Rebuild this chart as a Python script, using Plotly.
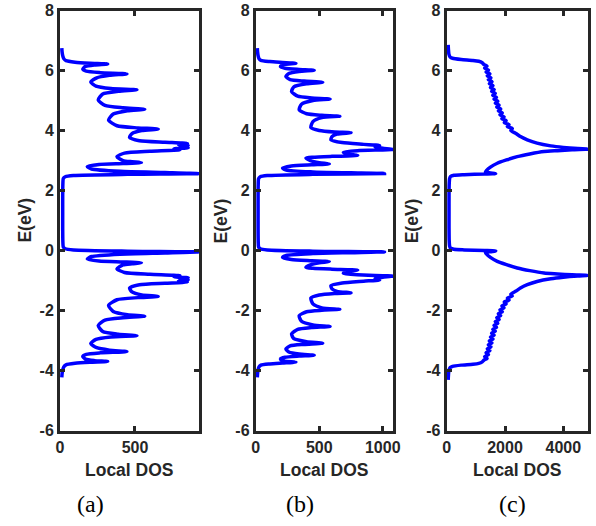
import plotly.graph_objects as go

# ---------------- data ----------------
E_a_top = [6.75, 6.62, 6.50, 6.40, 6.33, 6.28, 6.245, 6.22, 6.19, 6.14, 6.05, 5.98, 5.93, 5.89, 5.84, 5.76,
           5.62, 5.48, 5.40, 5.36, 5.31, 5.22, 5.02, 4.84, 4.76, 4.71, 4.66, 4.55, 4.35, 4.16, 4.09, 4.05,
           4.00, 3.90, 3.77, 3.66, 3.61, 3.57, 3.53, 3.50, 3.46, 3.43, 3.39, 3.36, 3.31, 3.25, 3.13, 3.00,
           2.96, 2.93, 2.90, 2.87, 2.80, 2.72, 2.64, 2.60, 2.565, 2.54, 2.50, 2.46, 2.40, 2.20, 1.80, 1.26]
D_a_top = [12, 14, 18, 25, 40, 100, 200, 318, 230, 170, 152, 175, 270, 446, 330, 245,
           205, 240, 340, 513, 390, 285, 255, 300, 420, 565, 450, 355, 324, 380, 520, 655,
           545, 480, 464, 530, 700, 850, 790, 855, 800, 855, 760, 800, 600, 430, 380, 420,
           480, 543, 420, 260, 182, 210, 400, 700, 930, 450, 90, 35, 22, 19, 18, 18]
E_a_bot = [0.72, 0.32, 0.12, 0.06, 0.02, -0.02, -0.045, -0.08, -0.12, -0.20, -0.28, -0.35, -0.38, -0.41,
           -0.44, -0.48, -0.61, -0.73, -0.79, -0.84, -0.87, -0.91, -0.94, -0.98, -1.01, -1.05, -1.09,
           -1.14, -1.25, -1.38, -1.48, -1.53, -1.57, -1.64, -1.83, -2.03, -2.14, -2.19, -2.24, -2.32,
           -2.50, -2.70, -2.79, -2.84, -2.88, -2.96, -3.10, -3.24, -3.32, -3.37, -3.41, -3.46, -3.53,
           -3.62, -3.67, -3.70, -3.725, -3.76, -3.81, -3.88, -3.98, -4.10, -4.23]
D_a_bot = [18, 19, 22, 35, 90, 450, 930, 700, 400, 210, 182, 260, 420, 543,
           480, 420, 380, 430, 600, 800, 760, 855, 800, 855, 790, 850, 700,
           530, 464, 480, 545, 655, 520, 380, 324, 355, 450, 565, 420, 300,
           255, 285, 390, 513, 340, 240, 205, 245, 330, 446, 270, 175, 152,
           170, 230, 318, 200, 100, 40, 25, 18, 14, 12]

E_b_top = [6.75, 6.62, 6.50, 6.40, 6.34, 6.30, 6.27, 6.24, 6.21, 6.17, 6.13, 6.08, 6.04, 6.01, 5.97, 5.90,
           5.80, 5.70, 5.65, 5.61, 5.56, 5.46, 5.30, 5.15, 5.09, 5.05, 5.00, 4.88, 4.69, 4.56, 4.51, 4.48,
           4.43, 4.30, 4.10, 4.00, 3.95, 3.93, 3.88, 3.80, 3.69, 3.60, 3.54, 3.50, 3.45, 3.41, 3.37, 3.33,
           3.28, 3.22, 3.17, 3.14, 3.11, 3.08, 3.00, 2.93, 2.89, 2.86, 2.82, 2.75, 2.68, 2.62, 2.59, 2.565,
           2.54, 2.50, 2.46, 2.40, 2.20, 1.80, 1.26]
D_b_top = [12, 14, 18, 25, 40, 110, 210, 316, 230, 200, 195, 230, 340, 460, 340, 260,
           237, 270, 380, 527, 400, 300, 282, 330, 440, 585, 450, 360, 342, 400, 520, 662,
           520, 450, 434, 500, 620, 750, 640, 600, 592, 680, 850, 975, 940, 1000, 1083, 800,
           690, 720, 803, 600, 450, 395, 430, 500, 579, 440, 280, 211, 240, 450, 750, 1014,
           450, 90, 35, 22, 19, 18, 18]
E_b_bot = [0.72, 0.32, 0.12, 0.06, 0.02, -0.02, -0.045, -0.07, -0.10, -0.16, -0.23, -0.30, -0.34, -0.37,
           -0.41, -0.48, -0.56, -0.59, -0.62, -0.65, -0.70, -0.76, -0.81, -0.85, -0.89, -0.93, -0.98,
           -1.02, -1.08, -1.17, -1.28, -1.36, -1.41, -1.43, -1.48, -1.58, -1.78, -1.91, -1.96, -1.99,
           -2.04, -2.17, -2.36, -2.48, -2.53, -2.57, -2.63, -2.78, -2.94, -3.04, -3.09, -3.13, -3.18,
           -3.28, -3.38, -3.45, -3.49, -3.52, -3.56, -3.61, -3.65, -3.69, -3.72, -3.75, -3.78, -3.82,
           -3.88, -3.98, -4.10, -4.23]
D_b_bot = [18, 19, 22, 35, 90, 450, 1014, 750, 450, 240, 211, 280, 440, 579,
           500, 430, 395, 450, 600, 803, 720, 690, 800, 1083, 1000, 940, 975,
           850, 680, 592, 600, 640, 750, 620, 500, 434, 450, 520, 662, 520,
           400, 342, 360, 450, 585, 440, 330, 282, 300, 400, 527, 380, 270,
           237, 260, 340, 460, 340, 230, 195, 200, 230, 316, 210, 110, 40,
           25, 18, 14, 12]

E_c_top = [6.86, 6.70, 6.55, 6.45, 6.41, 6.37, 6.34, 6.31, 6.26, 6.20,
           6.15, 6.085, 6.02, 5.955, 5.89, 5.825, 5.76, 5.695, 5.63, 5.565, 5.50, 5.435, 5.37, 5.305,
           5.24, 5.175, 5.11, 5.045, 4.98, 4.915, 4.85, 4.785, 4.72, 4.655, 4.59, 4.525, 4.46, 4.395,
           4.33, 4.265, 4.20, 4.135, 4.07, 4.005,
           3.90, 3.80, 3.69, 3.58, 3.49, 3.44, 3.40, 3.38, 3.36, 3.33, 3.30, 3.22, 3.13, 3.02, 2.91,
           2.78, 2.66, 2.62, 2.59, 2.565, 2.55, 2.53, 2.51, 2.47, 2.40, 2.20, 1.80, 1.275]
D_c_top = [50, 60, 75, 120, 200, 500, 900, 1100, 1220, 1280,
           1385, 1300, 1435, 1350, 1485, 1390, 1520, 1425, 1555, 1460, 1590, 1500, 1630, 1540,
           1670, 1580, 1710, 1620, 1755, 1665, 1800, 1715, 1855, 1770, 1910, 1825, 1970, 1890,
           2040, 1975, 2140, 2080, 2250, 2200,
           2380, 2530, 2765, 3100, 3570, 4000, 4500, 4858, 4300, 3800, 3340, 2850, 2420, 2050, 1735,
           1500, 1360, 1330, 1500, 1680, 1300, 600, 250, 130, 100, 85, 80, 80]
E_c_bot = [0.75, 0.35, 0.15, 0.08, 0.04, 0.02, 0.00, -0.015, -0.04, -0.07, -0.11, -0.23, -0.36, -0.47,
           -0.58, -0.67, -0.75, -0.78, -0.81, -0.83, -0.85, -0.89, -0.94, -1.03, -1.14, -1.25, -1.35,
           -1.455, -1.52, -1.585, -1.65, -1.715, -1.78, -1.845, -1.91, -1.975, -2.04, -2.105, -2.17,
           -2.235, -2.30, -2.365, -2.43, -2.495, -2.56, -2.625, -2.69, -2.755, -2.82, -2.885, -2.95,
           -3.015, -3.08, -3.145, -3.21, -3.275, -3.34, -3.405, -3.47, -3.535, -3.60,
           -3.65, -3.71, -3.76, -3.79, -3.82, -3.86, -3.90, -4.00, -4.15, -4.31]
D_c_bot = [80, 85, 100, 130, 250, 600, 1300, 1680, 1500, 1330, 1360, 1500, 1735, 2050,
           2420, 2850, 3340, 3800, 4300, 4858, 4500, 4000, 3570, 3100, 2765, 2530, 2380,
           2200, 2250, 2080, 2140, 1975, 2040, 1890, 1970, 1825, 1910, 1770, 1855,
           1715, 1800, 1665, 1755, 1620, 1710, 1580, 1670, 1540, 1630, 1500, 1590,
           1460, 1555, 1425, 1520, 1390, 1485, 1350, 1435, 1300, 1385,
           1280, 1220, 1100, 900, 500, 200, 120, 75, 60, 50]

x_ranges = [[0, 927], [0, 1083], [0, 4858]]
x_ticks = [[0, 500], [0, 500, 1000], [0, 2000, 4000]]
x_ticktext = [["0", "500"], ["0", "500", "1000"], ["0", "2000", "4000"]]
y_ticks = [-6, -4, -2, 0, 2, 4, 6, 8]
y_ticktext = ["-6", "-4", "-2", "0", "2", "4", "6", "8"]
panel_labels = ["(a)", "(b)", "(c)"]

# ---------------- figure ----------------
W, H = 596, 526
fig = go.Figure()
panels = [(E_a_top + E_a_bot, D_a_top + D_a_bot),
          (E_b_top + E_b_bot, D_b_top + D_b_bot),
          (E_c_top + E_c_bot, D_c_top + D_c_bot)]
for i, (E, D) in enumerate(panels):
    sfx = "" if i == 0 else str(i + 1)
    fig.add_trace(go.Scatter(x=D, y=E, mode="lines", xaxis="x" + sfx, yaxis="y" + sfx,
                             line=dict(color="#0000FF", width=3.5, shape="spline", smoothing=0.6),
                             showlegend=False, hoverinfo="skip"))

x_px = [(60, 199), (255.8, 393.3), (446.7, 588.3)]
y_dom = [(H - 430.5) / H, (H - 10.6) / H]
tfont = dict(family="Liberation Sans, Arial", size=16, color="#262626", weight="bold")
common = dict(showline=True, linewidth=3, linecolor="#262626", mirror="ticks", ticks="inside",
              ticklen=5, tickwidth=3, tickcolor="#262626", showgrid=False, zeroline=False,
              tickfont=tfont, fixedrange=True, automargin=False)
lfont = dict(family="Liberation Sans, Arial", size=17.5, color="#262626", weight="bold")
annotations = []
for i in range(3):
    sfx = "" if i == 0 else str(i + 1)
    x0, x1 = x_px[i]
    fig.update_layout(**{
        "xaxis" + sfx: dict(domain=[x0 / W, x1 / W], range=x_ranges[i], tickvals=x_ticks[i],
                            ticktext=x_ticktext[i], anchor="y" + sfx, **common),
        "yaxis" + sfx: dict(domain=y_dom, range=[-6, 8], tickvals=y_ticks, ticktext=y_ticktext,
                            anchor="x" + sfx, **common),
    })
    xc = (x0 + x1) / 2
    annotations.append(dict(text="Local DOS", x=xc / W, y=(H - 470) / H, xref="paper", yref="paper",
                            xanchor="center", yanchor="middle", showarrow=False, font=lfont))
    annotations.append(dict(text="E(eV)", x=(x0 - 35) / W, y=(H - 220.6) / H, xref="paper",
                            yref="paper", xanchor="center", yanchor="middle", textangle=-90,
                            showarrow=False, font=lfont))
lab_x = [90, 300, 512]
for i in range(3):
    annotations.append(dict(text=panel_labels[i], x=lab_x[i] / W, y=(H - 504) / H, xref="paper",
                            yref="paper", xanchor="center", yanchor="middle", showarrow=False,
                            font=dict(family="Liberation Serif, Times New Roman", size=24, color="black")))

fig.update_layout(width=W, height=H, margin=dict(l=0, r=0, t=0, b=0), autosize=False,
                  paper_bgcolor="white", plot_bgcolor="white", annotations=annotations)
fig.write_html("out.html", config={"displayModeBar": False})
